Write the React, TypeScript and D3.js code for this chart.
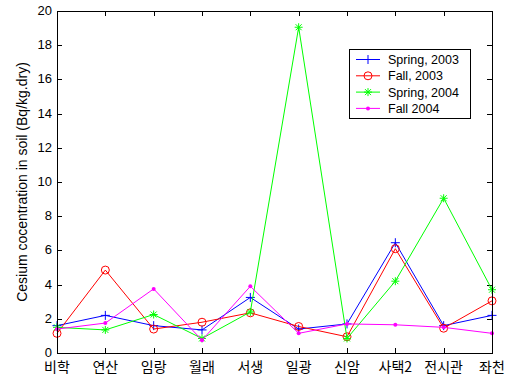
import React, { useRef, useEffect } from 'react';
import * as d3 from 'd3';

const sites = ['비학', '연산', '임랑', '월래', '서생', '일광', '신암', '사택2', '전시관', '좌천'];
const spring2003 = [1.6, 2.2, 1.6, 1.35, 3.25, 1.4, 1.7, 6.45, 1.6, 2.2];
const fall2003 = [1.15, 4.85, 1.4, 1.8, 2.35, 1.55, 0.95, 6.1, 1.45, 3.05];
const spring2004 = [1.5, 1.35, 2.25, 0.85, 2.4, 19.05, 0.85, 4.2, 9.05, 3.7];
const fall2004 = [1.4, 1.75, 3.75, 0.75, 3.9, 1.15, 1.7, 1.65, 1.5, 1.15];
const yTicks = [0, 2, 4, 6, 8, 10, 12, 14, 16, 18, 20];

const series = [
  { name: 'Spring, 2003', values: spring2003, color: '#0000ff', marker: 'plus' },
  { name: 'Fall, 2003', values: fall2003, color: '#ff0000', marker: 'circle' },
  { name: 'Spring, 2004', values: spring2004, color: '#00ff00', marker: 'star' },
  { name: 'Fall 2004', values: fall2004, color: '#ff00ff', marker: 'dot' },
];

const drawMarker = (g, type, x, y, color) => {
  if (type === 'plus') {
    g.append('path').attr('d', `M${x - 4.5},${y}H${x + 4.5}M${x},${y - 4.5}V${y + 4.5}`)
      .attr('stroke', color).attr('stroke-width', 1);
  } else if (type === 'circle') {
    g.append('circle').attr('cx', x).attr('cy', y).attr('r', 4)
      .attr('fill', 'none').attr('stroke', color).attr('stroke-width', 1);
  } else if (type === 'star') {
    g.append('path')
      .attr('d', `M${x - 4},${y}H${x + 4}M${x},${y - 4}V${y + 4}M${x - 3},${y - 3}L${x + 3},${y + 3}M${x - 3},${y + 3}L${x + 3},${y - 3}`)
      .attr('stroke', color).attr('stroke-width', 1);
  } else {
    g.append('circle').attr('cx', x).attr('cy', y).attr('r', 2).attr('fill', color);
  }
};

const App = () => {
  const ref = useRef(null);

  useEffect(() => {
    const svg = d3.select(ref.current);
    svg.selectAll('*').remove();

    const left = 57, right = 492, top = 11, bottom = 353;

    const x = d3.scalePoint().domain(sites).range([left, right]);
    const y = d3.scaleLinear().domain([0, 20]).range([bottom, top]);

    svg.append('rect').attr('width', 507).attr('height', 376).attr('fill', '#fff');

    // 축 틱 (안쪽)
    const ax = svg.append('g').attr('stroke', '#000').attr('stroke-width', 1);
    yTicks.forEach(t => {
      const yy = Math.round(y(t)) + 0.5;
      ax.append('line').attr('x1', left).attr('x2', left + 5).attr('y1', yy).attr('y2', yy);
      ax.append('line').attr('x1', right - 5).attr('x2', right).attr('y1', yy).attr('y2', yy);
    });
    sites.forEach(s => {
      const xx = Math.round(x(s)) + 0.5;
      ax.append('line').attr('x1', xx).attr('x2', xx).attr('y1', bottom).attr('y2', bottom - 5);
      ax.append('line').attr('x1', xx).attr('x2', xx).attr('y1', top).attr('y2', top + 5);
    });

    // 선 + 마커
    const line = d3.line().x((d, i) => x(sites[i])).y(d => y(d));
    series.forEach(s => {
      const g = svg.append('g');
      g.append('path').datum(s.values).attr('d', line)
        .attr('fill', 'none').attr('stroke', s.color).attr('stroke-width', 1);
      s.values.forEach((v, i) => drawMarker(g, s.marker, x(sites[i]), y(v), s.color));
    });

    svg.append('rect')
      .attr('x', left + 0.5).attr('y', top + 0.5)
      .attr('width', right - left).attr('height', bottom - top)
      .attr('fill', 'none').attr('stroke', '#000');

    // 눈금 라벨
    svg.append('g').selectAll('text').data(yTicks).enter().append('text')
      .attr('x', left - 5).attr('y', d => y(d) + 4)
      .attr('text-anchor', 'end')
      .style('font-family', '"Liberation Sans", Arial, sans-serif')
      .style('font-size', '13px')
      .text(d => d);

    svg.append('g').selectAll('text').data(sites).enter().append('text')
      .attr('x', d => x(d)).attr('y', 372)
      .attr('text-anchor', 'middle')
      .style('font-family', '"Noto Sans CJK KR", sans-serif')
      .style('font-size', '14px')
      .text(d => d);

    svg.append('text')
      .attr('transform', `translate(27,${(top + bottom) / 2}) rotate(-90)`)
      .attr('text-anchor', 'middle')
      .style('font-family', '"Liberation Sans", Arial, sans-serif')
      .style('font-size', '14px')
      .text('Cesium cocentration in soil (Bq/kg.dry)');

    // 범례
    const lg = svg.append('g');
    lg.append('rect').attr('x', 349.5).attr('y', 49.5).attr('width', 121).attr('height', 69)
      .attr('fill', '#fff').attr('stroke', '#000');
    series.forEach((s, i) => {
      const yy = 59.5 + i * 16.3;
      lg.append('line').attr('x1', 356).attr('x2', 380).attr('y1', yy).attr('y2', yy)
        .attr('stroke', s.color);
      drawMarker(lg, s.marker, 368, yy, s.color);
      lg.append('text').attr('x', 388).attr('y', yy + 4.5)
        .style('font-family', '"Liberation Sans", Arial, sans-serif')
        .style('font-size', '12.5px')
        .text(s.name);
    });
  }, []);

  return (
    <svg ref={ref} width={507} height={376}
      style={{ position: 'absolute', left: 0, top: 0, display: 'block' }} />
  );
};

export default App;
